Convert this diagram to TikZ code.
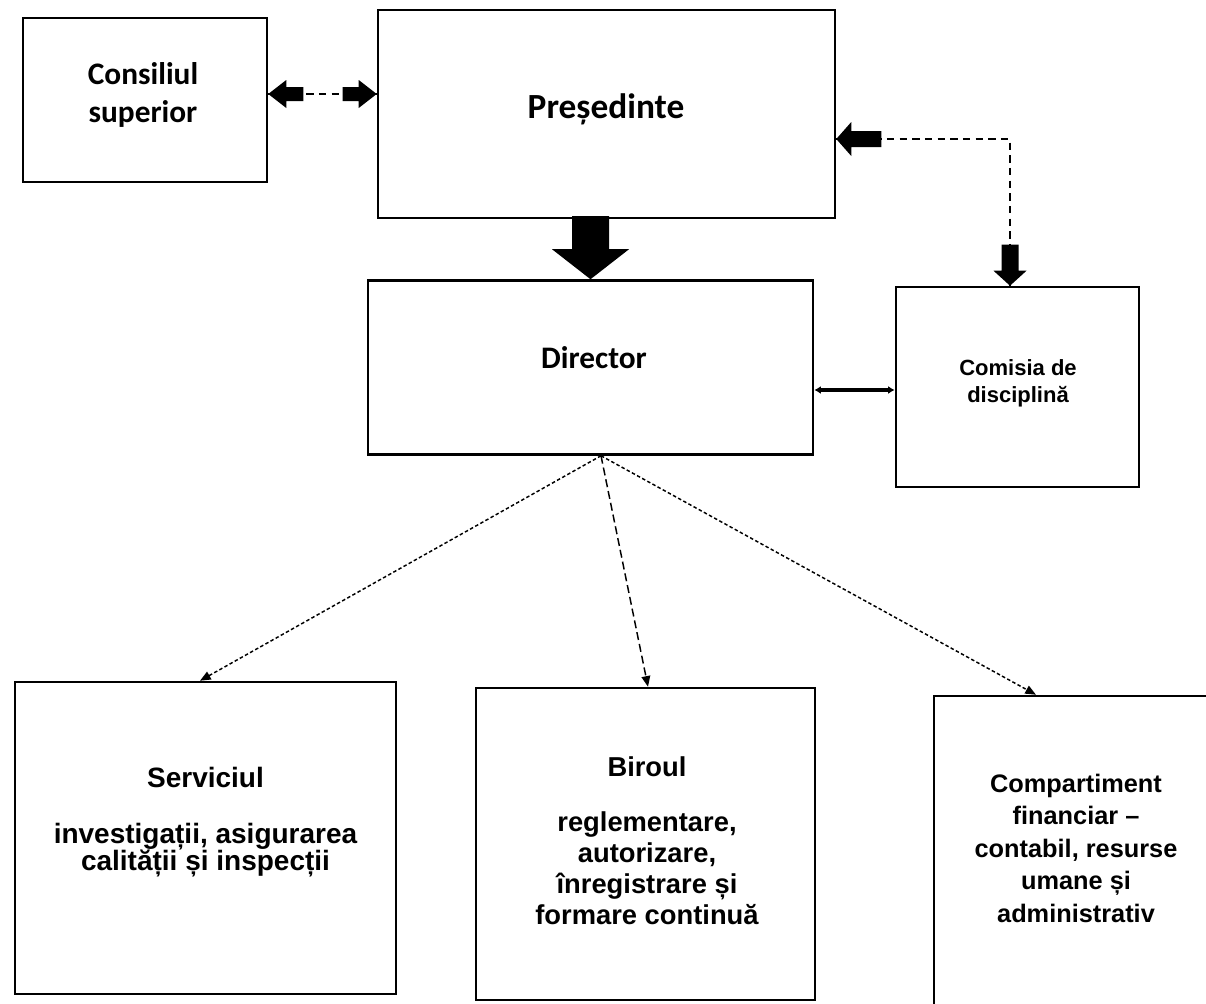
\documentclass[tikz,border=0pt]{standalone}
\usepackage{fontspec}
\setmainfont{Liberation Sans}
\newfontfamily\calfont{Carlito}
\usetikzlibrary{calc,arrows.meta}
\lineskiplimit=-100pt
\tikzset{
  box/.style={draw, line width=1.9pt, rectangle, inner sep=0pt},
  ctxt/.style={inner sep=0pt, align=center, font=\calfont\bfseries},
  atxt/.style={inner sep=0pt, align=center},
  thickdash/.style={line width=2.2pt, dash pattern=on 5.5pt off 4pt},
  fine/.style={line width=1.1pt, dash pattern=on 2.6pt off 1.8pt, -{Triangle[length=8pt,width=6.5pt]}},
  longdash/.style={line width=1.1pt, dash pattern=on 6pt off 3pt, -{Triangle[length=8pt,width=6.5pt]}},
  headfill/.style={fill=black},
}
\begin{document}
\begin{tikzpicture}[x=0.75pt,y=-0.75pt]
\useasboundingbox (0,0) rectangle (1206,1003);

% boxes
\node[box, minimum width=183pt, minimum height=123pt] (cons) at (145,100) {};
\node[box, minimum width=342.75pt, minimum height=156pt] (pres) at (606.5,114) {};
\node[box, minimum width=333.75pt, minimum height=130.5pt] (dir) at (590.5,367.5) {};
\node[box, minimum width=182.25pt, minimum height=150pt] (com) at (1017.5,387) {};
\node[box, minimum width=285.75pt, minimum height=234pt] (serv) at (205.5,838) {};
\node[box, minimum width=254.25pt, minimum height=234pt] (bir) at (645.5,844) {};
\node[box, minimum width=213pt, minimum height=240pt] (comp) at (1076,856) {};

% texts
\node[ctxt, font={\calfont\bfseries\fontsize{23.5}{28}\selectfont}] (consT) at (143,95) {Consiliul\\superior};
\node[ctxt, anchor=base, font={\calfont\bfseries\fontsize{26.5}{30}\selectfont}] (presT) at (606,118) {Președinte};
\node[ctxt, anchor=base, font={\calfont\bfseries\fontsize{23.5}{28}\selectfont}] (dirT) at (594,368) {Director};
\node[atxt, font={\bfseries\fontsize{16.5}{20.25}\selectfont}] (comT) at (1018,383) {Comisia de\\disciplină};
\node[atxt, font={\bfseries\fontsize{21}{20}\selectfont}] (servT) at (205.5,822) {Serviciul\\[22pt]investigații, asigurarea\\calității și inspecții};
\node[atxt, font={\bfseries\fontsize{20.5}{23.25}\selectfont}] (birT) at (647,841) {Biroul\\[18pt]reglementare,\\autorizare,\\înregistrare și\\formare continuă};
\node[atxt, font={\bfseries\fontsize{19}{24.4}\selectfont}] (compT) at (1076,848) {Compartiment\\financiar --\\contabil, resurse\\umane și\\administrativ};

% Consiliul <-> Presedinte
\coordinate (ca) at ($(cons.east)+(0,-6)$);
\coordinate (cb) at (pres.west |- ca);
\draw[thickdash] (ca) -- (cb);
\fill[headfill] (ca) -- ++(18,-14) -- ++(0,7) -- ++(17,0) -- ++(0,14) -- ++(-17,0) -- ++(0,7) -- cycle;
\fill[headfill] (cb) -- ++(-18,-14) -- ++(0,7) -- ++(-16,0) -- ++(0,14) -- ++(16,0) -- ++(0,7) -- cycle;

% Presedinte <-> Comisia
\coordinate (pa) at ($(pres.east)+(0,25)$);
\coordinate (pb) at ($(com.north)+(-7.5,0)$);
\draw[thickdash] (pa) -- (pa -| pb) -- (pb);
\fill[headfill] (pa) -- ++(15,-17) -- ++(0,9) -- ++(30,0) -- ++(0,16) -- ++(-30,0) -- ++(0,9) -- cycle;
\fill[headfill] (pb) -- ++(-16.5,-15) -- ++(8,0) -- ++(0,-26) -- ++(17,0) -- ++(0,26) -- ++(8,0) -- cycle;

% Presedinte -> Director (big arrow)
\fill[headfill] (dir.north) -- ++(-38.5,-30) -- ++(20,0) -- ++(0,-33) -- ++(37,0) -- ++(0,33) -- ++(20,0) -- cycle;

% Director <-> Comisia
\coordinate (da) at ($(dir.east)+(0,22.5)$);
\draw[line width=2.6pt, {Latex[length=5pt,width=6pt]}-{Latex[length=5pt,width=6pt]}] (da) -- (com.west |- da);

% Director -> bottom boxes
\coordinate (ds) at ($(dir.south)+(10.5,0)$);
\draw[fine] (ds) -- ($(serv.north)+(-5.5,0)$);
\draw[longdash] (ds) -- ($(bir.north)+(2.5,0)$);
\draw[fine] (ds) -- ($(comp.north)+(-40,0)$);
\end{tikzpicture}
\end{document}
